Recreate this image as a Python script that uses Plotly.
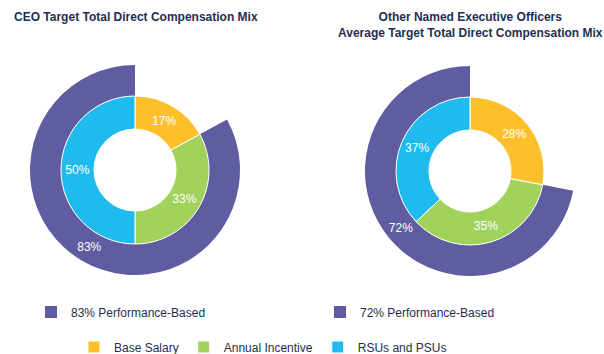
import plotly.graph_objects as go

# ---- data ----
components = ["Base Salary", "Annual Incentive", "RSUs and PSUs"]
ceo_mix = [17, 33, 50]
neo_mix = [28, 35, 37]
ceo_perf = 83
neo_perf = 72
titles = ["CEO Target Total Direct Compensation Mix",
          "Other Named Executive Officers<br>Average Target Total Direct Compensation Mix"]

comp_colors = ["#FDC02B", "#A1D35C", "#20BBEE"]
perf_color = "#605CA2"
text_color = "#1F2E4F"
FONT = "Liberation Sans, Arial, sans-serif"

W, H = 604, 354

def dom(cx, cy, r):
    return dict(x=[(cx - r) / W, (cx + r) / W], y=[1 - (cy + r) / H, 1 - (cy - r) / H])

fig = go.Figure()

charts = [
    dict(cx=135, cy=170, mix=ceo_mix, perf=ceo_perf, legend="legend", blank=" "),
    dict(cx=470, cy=171, mix=neo_mix, perf=neo_perf, legend="legend2", blank="  "),
]

for i, c in enumerate(charts):
    base = c["mix"][0]
    perf = c["perf"]
    # outer performance ring
    fig.add_trace(go.Pie(
        values=[perf, 100 - perf],
        labels=[f"{perf}% Performance-Based", c["blank"]],
        text=[f"{perf}%", ""],
        textinfo="text",
        textposition="inside",
        insidetextorientation="horizontal",
        textfont=dict(color="white", size=12, family=FONT),
        marker=dict(colors=[perf_color, "rgba(0,0,0,0)"], line=dict(width=0)),
        hole=74 / 105,
        sort=False,
        direction="clockwise",
        rotation=base * 3.6,
        domain=dom(c["cx"], c["cy"], 105),
        legend=c["legend"],
        showlegend=True,
        hoverinfo="skip",
    ))
    # inner mix donut
    fig.add_trace(go.Pie(
        values=c["mix"],
        labels=components,
        text=[f"{v}%" for v in c["mix"]],
        textinfo="text",
        textposition="inside",
        insidetextorientation="horizontal",
        textfont=dict(color="white", size=12, family=FONT),
        marker=dict(colors=comp_colors, line=dict(color="white", width=1)),
        hole=41 / 74,
        sort=False,
        direction="clockwise",
        rotation=0,
        domain=dom(c["cx"], c["cy"], 74),
        legend="legend3",
        showlegend=(i == 0),
        hoverinfo="skip",
    ))

legend_common = dict(orientation="h", bgcolor="rgba(0,0,0,0)", borderwidth=0,
                     font=dict(size=12, color=text_color, family=FONT),
                     itemwidth=30, yanchor="middle", xanchor="left",
                     traceorder="normal", itemclick=False, itemdoubleclick=False)

fig.update_layout(
    width=W, height=H,
    margin=dict(l=0, r=0, t=0, b=0, autoexpand=False),
    paper_bgcolor="white",
    plot_bgcolor="white",
    font=dict(family=FONT, color=text_color),
    legend=dict(legend_common, x=31 / W, y=1 - 312 / H),
    legend2=dict(legend_common, x=320 / W, y=1 - 312 / H),
    legend3=dict(legend_common, x=263 / W, xanchor="center", y=1 - 347 / H),
    annotations=[
        dict(text=f"<b>{titles[0]}</b>", x=12 / W, y=1 - 17 / H, xref="paper", yref="paper",
             xanchor="left", yanchor="middle", showarrow=False,
             font=dict(size=12, color=text_color, family=FONT)),
        dict(text=f"<b>{titles[1]}</b>", x=470 / W, y=1 - 25 / H, xref="paper", yref="paper",
             xanchor="center", yanchor="middle", showarrow=False, align="center",
             font=dict(size=12, color=text_color, family=FONT)),
    ],
)

fig.write_html("out.html")
